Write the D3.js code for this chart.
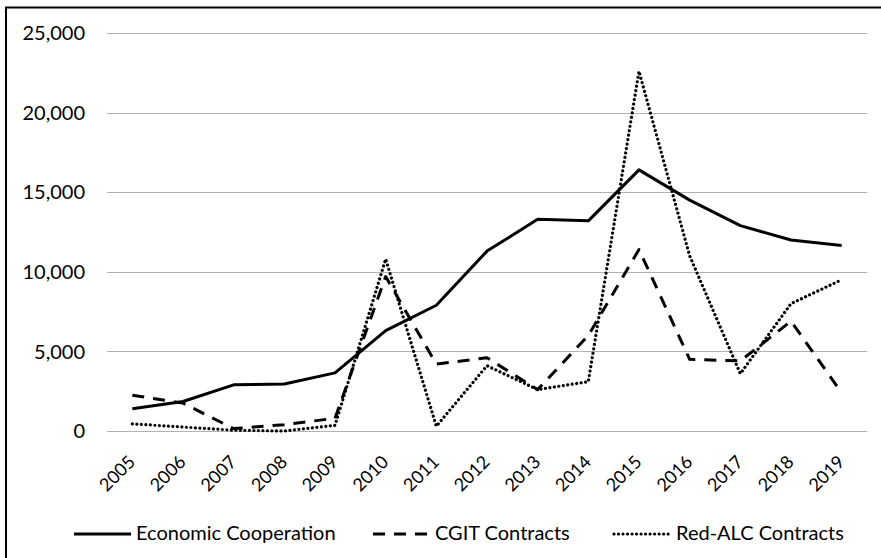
<!DOCTYPE html>
<html>
<head>
<meta charset="utf-8">
<script src="https://cdn.jsdelivr.net/npm/d3@7"></script>
<style>
body { margin: 0; background: #fff; }
text { font-family: Lato, "Noto Sans", sans-serif; fill: #000; }
</style>
</head>
<body>
<svg id="chart" width="881" height="558"></svg>
<script>
// data
var years = ["2005","2006","2007","2008","2009","2010","2011","2012","2013","2014","2015","2016","2017","2018","2019"];
var econ = [1400,1850,2900,2950,3650,6300,7900,11300,13300,13200,16400,14500,12900,12000,11650];
var cgit = [2250,1750,150,400,800,9700,4200,4600,2600,6000,11400,4500,4400,6900,2400];
var redalc = [450,250,50,0,350,10800,300,4100,2600,3100,22600,11000,3600,8000,9500];
var yTicks = [0,5000,10000,15000,20000,25000];

var seriesNames = ["Economic Cooperation","CGIT Contracts","Red-ALC Contracts"];
var seriesData = [econ, cgit, redalc];

var svg = d3.select("#chart");

// outer frame (only left and top visible)
svg.append("rect")
    .attr("x", 6).attr("y", 7.5)
    .attr("width", 900).attr("height", 600)
    .style("fill", "none")
    .style("stroke", "#000")
    .style("stroke-width", 2);

var x = d3.scaleBand().domain(years).range([107, 867]);
var y = d3.scaleLinear().domain([0, 25000]).range([431, 33]);

//网格线
svg.append("g").selectAll("line")
    .data(yTicks)
    .enter().append("line")
    .attr("x1", 107).attr("x2", 867)
    .attr("y1", function (d) { return Math.round(y(d)) + 0.5; })
    .attr("y2", function (d) { return Math.round(y(d)) + 0.5; })
    .style("stroke", "#b3b3b3")
    .style("stroke-width", 1);

// y labels
var fmt = d3.format(",");
svg.append("g").selectAll("text")
    .data(yTicks)
    .enter().append("text")
    .attr("x", 85)
    .attr("y", function (d) { return y(d); })
    .attr("dy", "0.36em")
    .attr("text-anchor", "end")
    .style("font-size", "20px")
    .text(function (d) { return fmt(d); });

// x labels, rotated
svg.append("g").selectAll("text")
    .data(years)
    .enter().append("text")
    .attr("transform", function (d) {
        return "translate(" + (x(d) + x.bandwidth() / 2 + 4) + ",463) rotate(-45)";
    })
    .attr("text-anchor", "end")
    .style("font-size", "18px")
    .text(function (d) { return d; });

var styles = [
    { dash: null, width: 3, cap: "butt" },
    { dash: "12,9", width: 3, cap: "butt" },
    { dash: "0.01,4.5", width: 3.2, cap: "round" }
];

var line = d3.line()
    .x(function (d, i) { return x(years[i]) + x.bandwidth() / 2; })
    .y(function (d) { return y(d); });

for (var i = 0; i < seriesData.length; i++) {
    svg.append("path")
        .datum(seriesData[i])
        .attr("d", line)
        .style("fill", "none")
        .style("stroke", "#000")
        .style("stroke-width", styles[i].width)
        .style("stroke-linejoin", "round")
        .style("stroke-linecap", styles[i].cap)
        .style("stroke-dasharray", styles[i].dash);
}

// legend
var legendX = [74, 373, 614];
for (var i = 0; i < seriesNames.length; i++) {
    var g = svg.append("g").attr("transform", "translate(" + legendX[i] + ",534)");
    g.append("line")
        .attr("x1", 0).attr("x2", 57)
        .attr("y1", 0).attr("y2", 0)
        .style("stroke", "#000")
        .style("stroke-width", styles[i].width)
        .style("stroke-linecap", styles[i].cap)
        .style("stroke-dasharray", styles[i].dash);
    g.append("text")
        .attr("x", 62).attr("y", 6)
        .style("font-size", "20px")
        .text(seriesNames[i]);
}
</script>
</body>
</html>
